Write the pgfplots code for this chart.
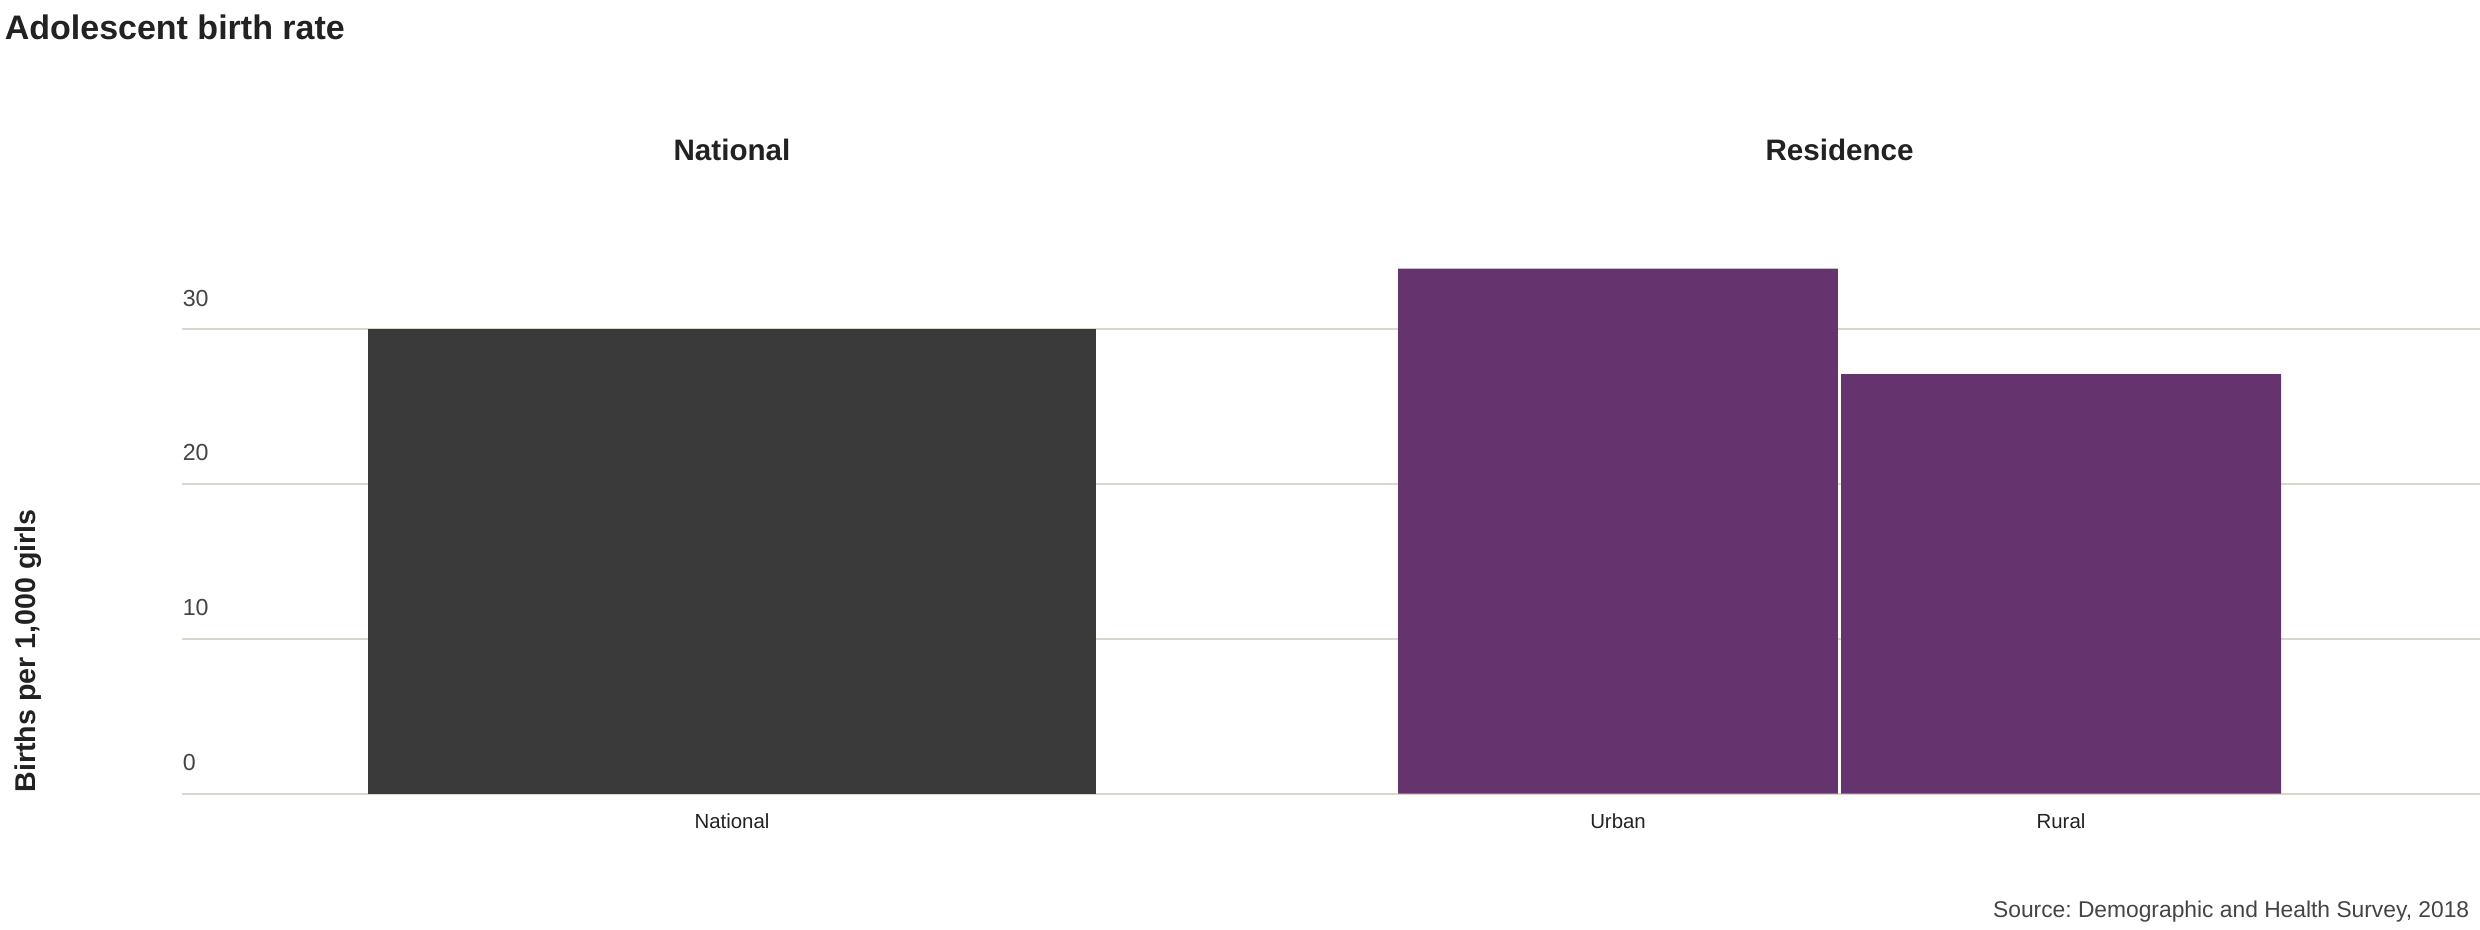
\documentclass[border=0pt]{standalone}
\usepackage{pgfplots}
\pgfplotsset{compat=1.18}
\usepackage{fontspec}
\setmainfont{Liberation Sans}
\frenchspacing

\definecolor{natgray}{HTML}{3A3A3A}
\definecolor{respurple}{HTML}{65346F}
\definecolor{gridbeige}{HTML}{DAD6CB}
\definecolor{inkdark}{HTML}{222222}
\definecolor{inktick}{HTML}{444444}

\begin{document}
\begin{tikzpicture}
\path[use as bounding box] (0,0) rectangle (620pt,232.5pt);

% chart title
\node[anchor=base west, inner sep=0pt, text=inkdark,
      font=\bfseries\fontsize{8.5pt}{10pt}\selectfont] at (1pt,222.5pt) {Adolescent birth rate};

\begin{axis}[
  at={(45.5pt,34.075pt)}, anchor=south west,
  scale only axis, width=574.5pt, height=135.5pt,
  xmin=-1.2415, xmax=3.9458, ymin=0, ymax=35,
  axis line style={draw=none},
  major tick length=0pt,
  ytick={0,10,20,30},
  ymajorgrids, grid style={gridbeige, line width=0.5pt},
  xtick={0,2,3}, xticklabels={National,Urban,Rural},
  xticklabel style={anchor=base, inner sep=0pt, yshift=-8.75pt, text=inkdark,
                    font=\fontsize{5.1pt}{6pt}\selectfont},
  yticklabel style={anchor=south west, inner sep=0pt, yshift=5.5pt, text=inktick,
                    font=\fontsize{5.8pt}{7pt}\selectfont},
  /pgf/number format/assume math mode=true,
  clip=false,
]
  % national total
  \addplot[ybar, bar width=1.643, bar shift=0pt, fill=natgray, draw=none]
    coordinates {(0,30.0)};
  % by residence
  \addplot[ybar, bar width=0.993, bar shift=0pt, fill=respurple, draw=none]
    coordinates {(2,33.9) (3,27.1)};

  % panel headings
  \node[anchor=base, inner sep=0pt, text=inkdark,
        font=\bfseries\fontsize{7.4pt}{9pt}\selectfont] at (axis cs:0,40.87) {National};
  \node[anchor=base, inner sep=0pt, text=inkdark,
        font=\bfseries\fontsize{7.4pt}{9pt}\selectfont] at (axis cs:2.5,40.87) {Residence};
\end{axis}

% y axis title
\node[rotate=90, anchor=base, inner sep=0pt, text=inkdark,
      font=\bfseries\fontsize{7.15pt}{9pt}\selectfont] at (9pt,69.75pt) {Births per 1,000 girls};

% source note
\node[anchor=base east, inner sep=0pt, text=inktick,
      font=\fontsize{5.7pt}{7pt}\selectfont] at (617.5pt,3pt) {Source: Demographic and Health Survey, 2018};
\end{tikzpicture}
\end{document}
